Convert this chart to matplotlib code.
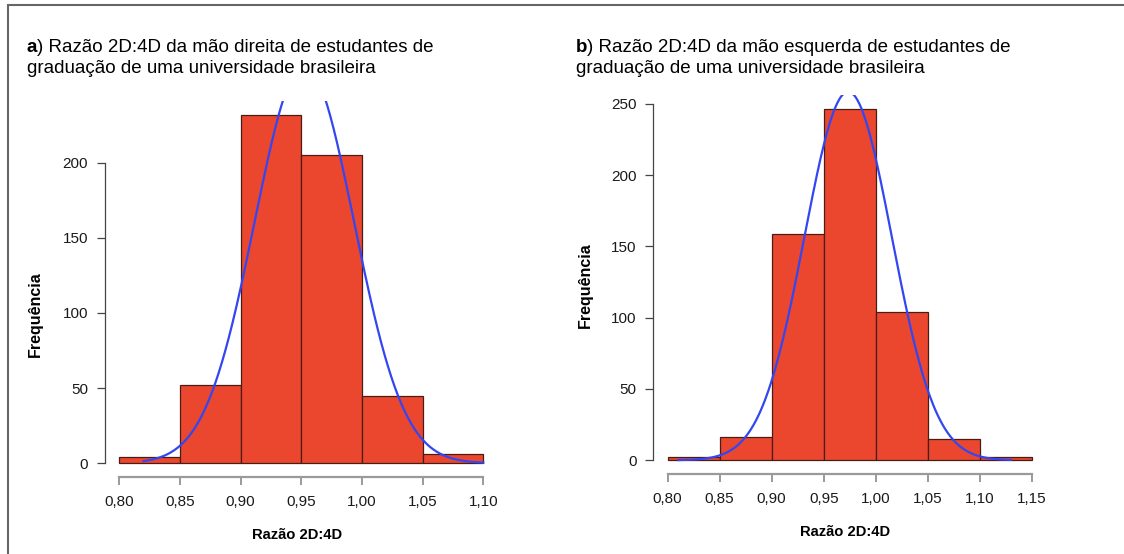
import numpy as np
import matplotlib
matplotlib.use('Agg')
import matplotlib.pyplot as plt
from matplotlib.patches import Rectangle

plt.rcParams['font.family'] = ['Liberation Sans', 'DejaVu Sans']

# 데이터
bins_dir = [0.80, 0.85, 0.90, 0.95, 1.00, 1.05, 1.10]
counts_dir = [4, 52, 232, 205, 45, 6]
bins_esq = [0.80, 0.85, 0.90, 0.95, 1.00, 1.05, 1.10, 1.15]
counts_esq = [2, 16, 159, 246, 104, 15, 2]

# 정규 곡선 파라미터 (평균, 표준편차, 곡선 구간)
mean_dir, sd_dir, range_dir = 0.9525, 0.041, (0.82, 1.10)
mean_esq, sd_esq, range_esq = 0.9735, 0.042, (0.81, 1.13)

xticks_dir = [0.80, 0.85, 0.90, 0.95, 1.00, 1.05, 1.10]
xticks_esq = [0.80, 0.85, 0.90, 0.95, 1.00, 1.05, 1.10, 1.15]
yticks_dir = [0, 50, 100, 150, 200]
yticks_esq = [0, 50, 100, 150, 200, 250]

BAR = '#EB472F'
EDGE = '#4a1c14'
BLUE = '#3346F2'
W, H = 1124, 554

fig = plt.figure(figsize=(W / 100, H / 100), dpi=100)

# 바깥 테두리 (위/왼쪽만 보임)
fig.patches.append(Rectangle((7.5 / W, -0.1), 1.2, 1 - 4.5 / H + 0.1,
                             transform=fig.transFigure, fill=False,
                             edgecolor='#666666', linewidth=1.5))


def px_axes(x0, y0, x1, y1):
    return fig.add_axes([x0 / W, 1 - y1 / H, (x1 - x0) / W, (y1 - y0) / H])


def draw_panel(ax, bins, counts, mean, sd, crange, xticks, yticks):
    bins = np.array(bins)
    counts = np.array(counts)
    bw = bins[1] - bins[0]
    ax.bar(bins[:-1], counts, width=bw, align='edge', color=BAR,
           edgecolor=EDGE, linewidth=0.9, zorder=2)

    xs = np.linspace(crange[0], crange[1], 300)
    dens = np.exp(-(xs - mean) ** 2 / (2 * sd ** 2)) / (sd * np.sqrt(2 * np.pi))
    ax.plot(xs, dens * counts.sum() * bw, color=BLUE, linewidth=1.6, zorder=3)

    # R 스타일 축 범위 (4% 확장)
    xr = bins[-1] - bins[0]
    ax.set_xlim(bins[0] - 0.04 * xr, bins[-1] + 0.04 * xr)
    ymax = counts.max()
    ax.set_ylim(-0.04 * ymax, 1.04 * ymax)

    ax.set_facecolor('none')
    for s in ['top', 'right']:
        ax.spines[s].set_visible(False)
    ax.spines['left'].set_bounds(yticks[0], yticks[-1])
    ax.spines['left'].set_color('#444444')
    ax.spines['left'].set_linewidth(0.9)
    ax.spines['bottom'].set_bounds(xticks[0], xticks[-1])
    ax.spines['bottom'].set_color('#9a9a9a')
    ax.spines['bottom'].set_linewidth(1.6)

    ax.set_xticks(xticks)
    ax.set_xticklabels([f'{t:.2f}'.replace('.', ',') for t in xticks])
    ax.set_yticks(yticks)
    ax.set_yticklabels([str(t) for t in yticks])
    ax.tick_params(axis='x', length=6, width=1.4, color='#9a9a9a', pad=7,
                   labelsize=11, labelcolor='#1a1a1a')
    ax.tick_params(axis='y', length=6, width=0.9, color='#444444', pad=6,
                   labelsize=11, labelcolor='#1a1a1a')


ax1 = px_axes(104.7, 100.6, 497.9, 477.2)
draw_panel(ax1, bins_dir, counts_dir, mean_dir, sd_dir, range_dir,
           xticks_dir, yticks_dir)
ax2 = px_axes(653.1, 95.4, 1046.3, 474.3)
draw_panel(ax2, bins_esq, counts_esq, mean_esq, sd_esq, range_esq,
           xticks_esq, yticks_esq)


def title(x, y, letter, line1, line2):
    t = fig.text(x / W, 1 - y / H, letter, fontsize=13.5, fontweight='bold',
                 va='baseline', ha='left')
    ax1.annotate(line1, xy=(1, 0), xycoords=t, va='bottom', ha='left',
                 fontsize=13.5, annotation_clip=False)
    fig.text(x / W, 1 - (y + 21) / H, line2, fontsize=13.5, va='baseline',
             ha='left')


title(26.7, 51.7, 'a', ') Razão 2D:4D da mão direita de estudantes de',
      'graduação de uma universidade brasileira')
title(576, 51.7, 'b', ') Razão 2D:4D da mão esquerda de estudantes de',
      'graduação de uma universidade brasileira')

# 축 라벨
for x, y in [(35, 314), (585, 285)]:
    fig.text(x / W, 1 - y / H, 'Frequência', rotation=90, fontsize=11.5,
             fontweight='bold', ha='center', va='center')
for x, y in [(297, 535), (845, 531.7)]:
    fig.text(x / W, 1 - y / H, 'Razão 2D:4D', fontsize=10.6,
             fontweight='bold', ha='center', va='center')

fig.savefig('out.png', dpi=100)
